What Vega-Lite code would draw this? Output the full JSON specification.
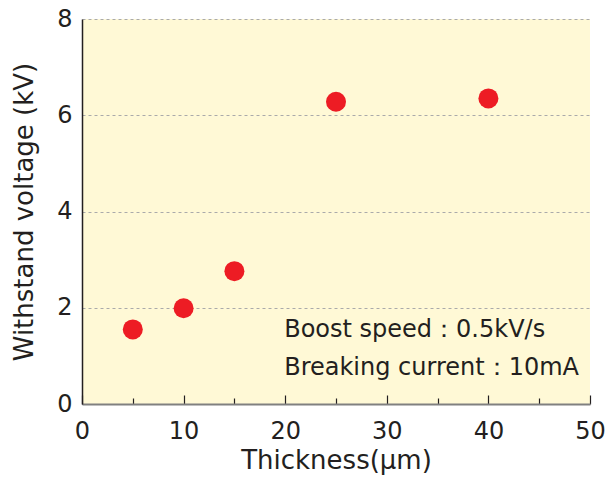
{
  "$schema": "https://vega.github.io/schema/vega-lite/v6.json",
  "width": 508,
  "height": 385,
  "autosize": {"type": "none"},
  "padding": {"left": 82, "top": 19, "right": 18, "bottom": 73},
  "background": "white",
  "config": {
    "view": {"fill": "#fff9d6", "stroke": null},
    "font": "DejaVu Sans",
    "axis": {"labelFont": "DejaVu Sans", "titleFont": "DejaVu Sans", "labelColor": "#231f20", "titleColor": "#231f20", "labelFontSize": 24, "titleFontSize": 26, "titleFontWeight": "normal", "labelFlush": false}
  },
  "layer": [
    {
      "data": {"values": [
        {"thickness": 5, "voltage": 1.55},
        {"thickness": 10, "voltage": 1.99},
        {"thickness": 15, "voltage": 2.76},
        {"thickness": 25, "voltage": 6.28},
        {"thickness": 40, "voltage": 6.35}
      ]},
      "mark": {"type": "circle", "color": "#ed1c24", "opacity": 1, "size": 400},
      "encoding": {
        "x": {"field": "thickness", "type": "quantitative", "scale": {"domain": [0, 50], "nice": false},
          "axis": {"title": "Thickness(μm)", "values": [0, 5, 10, 15, 20, 25, 30, 35, 40, 45, 50],
            "labelExpr": "datum.value % 10 === 0 ? datum.label : ''",
            "tickSize": {"condition": {"test": "datum.value % 10 === 0", "value": -9}, "value": -6},
            "tickColor": "#231f20", "tickWidth": 1.2,
            "domainColor": "#808080", "domainWidth": 2, "grid": false, "labelPadding": 24, "titlePadding": 4}},
        "y": {"field": "voltage", "type": "quantitative", "scale": {"domain": [0, 8], "nice": false},
          "axis": {"title": "Withstand voltage (kV)", "values": [0, 2, 4, 6, 8], "ticks": false,
            "domainColor": "#231f20", "domainWidth": 1.5, "grid": true, "gridDash": [3, 3], "gridColor": "#aaaaaa",
            "gridOpacity": {"condition": {"test": "datum.value === 0", "value": 0}, "value": 1},
            "labelPadding": 10, "titlePadding": 19}}
      }
    },
    {
      "data": {"values": [
        {"x": 19.9, "y": 1.54, "label": "Boost speed：0.5kV/s"},
        {"x": 19.9, "y": 0.75, "label": "Breaking current：10mA"}
      ]},
      "mark": {"type": "text", "align": "left", "baseline": "middle", "fontSize": 24, "color": "#231f20", "font": "DejaVu Sans"},
      "encoding": {
        "x": {"field": "x", "type": "quantitative"},
        "y": {"field": "y", "type": "quantitative"},
        "text": {"field": "label"}
      }
    }
  ]
}
